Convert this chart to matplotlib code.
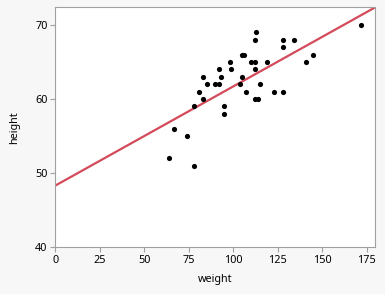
import numpy as np
import matplotlib.pyplot as plt

plt.rcParams['font.family'] = ['Noto Sans', 'DejaVu Sans']

# dati
weight = [64, 67, 74, 78, 78, 81, 83, 83, 85, 90, 92, 92, 93, 95, 95,
          98, 99, 104, 105, 105, 106, 107, 110, 112, 112, 112, 112, 113,
          114, 115, 119, 123, 128, 128, 128, 134, 141, 145, 172]
height = [52, 56, 55, 51, 59, 61, 60, 63, 62, 62, 62, 64, 63, 59, 58,
          65, 64, 62, 63, 66, 66, 61, 65, 65, 68, 64, 60, 69,
          60, 62, 65, 61, 61, 67, 68, 68, 65, 66, 70]

# retta di regressione
intercetta = 48.3
pendenza = 0.134

xticks = [0, 25, 50, 75, 100, 125, 150, 175]
yticks = [40, 50, 60, 70]

fig = plt.figure(figsize=(3.85, 2.94), dpi=100, facecolor="#f7f7f7")
ax = fig.add_axes([55.3 / 385, 1 - 247 / 294, (375 - 55.3) / 385, (247 - 7.3) / 294])
ax.set_facecolor("white")

xs = np.array([0, 180])
ax.plot(xs, intercetta + pendenza * xs, color="#d44a5a", linewidth=1.6, zorder=2)
ax.scatter(weight, height, s=14, color="black", zorder=3, linewidths=0)

ax.set_xlim(0, 179.7)
ax.set_ylim(40, 72.4)
ax.set_xticks(xticks)
ax.set_yticks(yticks)
for s in ax.spines.values():
    s.set_color("#a0a0a0")
ax.tick_params(colors="#a0a0a0", labelcolor="black", labelsize=7.8,
               length=3.6, width=0.8, pad=2)
ax.set_xlabel("weight", fontsize=7.8, labelpad=6)
ax.set_ylabel("height", fontsize=7.8, labelpad=11)

fig.savefig("out.png", dpi=100, facecolor=fig.get_facecolor())
